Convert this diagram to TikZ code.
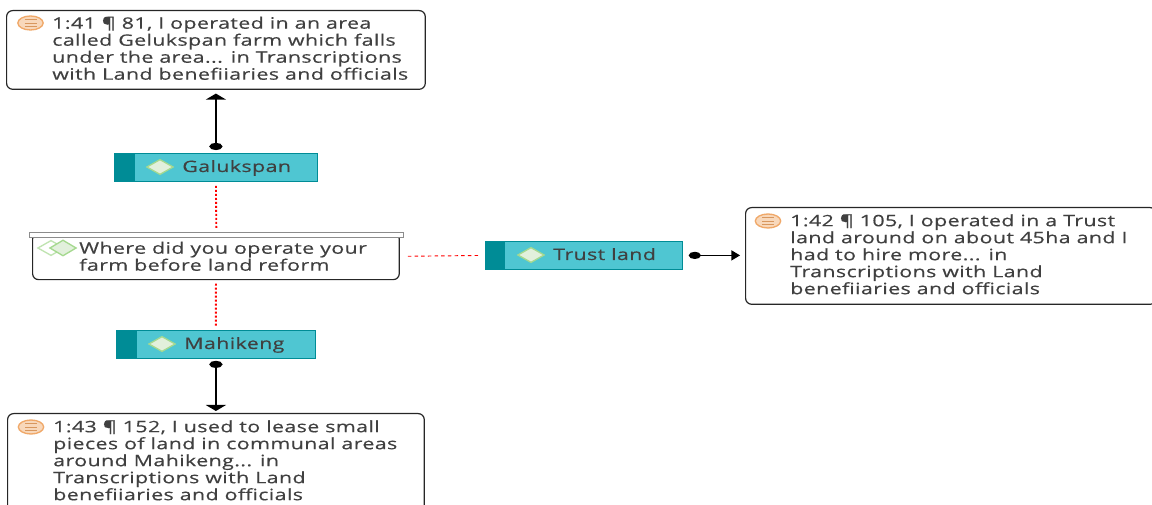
\documentclass[tikz,border=0pt]{standalone}
\usepackage{fontspec}
\usetikzlibrary{arrows.meta,shapes.geometric}
\newfontfamily\nvfont[FakeStretch=1.36,LetterSpace=2.5,FakeBold=0.35]{Open Sans}
\definecolor{codeteal}{HTML}{4FC6D2}
\definecolor{codedark}{HTML}{008C96}
\definecolor{nvtext}{HTML}{404040}
\definecolor{quoteorange}{HTML}{F0A868}
\definecolor{iconfill}{HTML}{E2F0DC}
\definecolor{iconedge}{HTML}{A5D98F}
\tikzset{
  boxline/.style={draw=black!85, line width=0.9pt, rounded corners=4.5pt, fill=white, inner sep=0pt},
  nvtxt/.style={anchor=north west, inner sep=0pt, align=left, text=nvtext, font=\nvfont\fontsize{11.8}{12.75}\selectfont},
  codebox/.style={draw=codedark, line width=0.6pt, fill=codeteal, inner sep=0pt},
  codetag/.style={fill=codedark, inner sep=0pt},
  codeicon/.style={diamond, draw=iconedge, line width=1pt, fill=iconfill, inner sep=0pt, minimum width=20pt, minimum height=11.5pt},
  quoteicon/.style={ellipse, draw=quoteorange, line width=1pt, fill=quoteorange!45, inner sep=0pt, minimum width=19pt, minimum height=10.5pt},
  quotemark/.style={draw=quoteorange!90!black, line width=0.6pt},
  linkto/.style={line width=1.3pt, {Circle[length=5.4pt,width=9.7pt]}-{Triangle[length=4.5pt,width=15pt]}},
  linkto2/.style={line width=0.9pt, {Circle[length=9pt,width=5.4pt]}-{Triangle[length=6.5pt,width=7.5pt]}},
  rellink/.style={draw=red, dash pattern=on 1.5pt off 1.5pt, line width=1.4pt},
  rellink2/.style={draw=red, dash pattern=on 2.6pt off 2.4pt, line width=0.7pt},
}
\begin{document}
\begin{tikzpicture}[x=0.75pt, y=-0.75pt]
  \useasboundingbox (0,0) rectangle (1152,505);
  \clip (0,0) rectangle (1152,505);

  % quotations
  \node[boxline, anchor=north west, minimum width=314pt, minimum height=59pt] (quoteA) at (6,10) {};
  \node[quoteicon] (iconA) at (30.5,23) {};
  \node[nvtxt] (textA) at (52,16.5) {1:41 ¶ 81, I operated in an area\\called Gelukspan farm which falls\\under the area... in Transcriptions\\with Land benefiiaries and officials};

  \node[boxline, anchor=north west, minimum width=308pt, minimum height=72.5pt] (quoteB) at (745,207) {};
  \node[quoteicon] (iconB) at (768,221) {};
  \node[nvtxt] (textB) at (790,214) {1:42 ¶ 105, I operated in a Trust\\land around on about 45ha and I\\had to hire more... in\\Transcriptions with Land\\benefiiaries and officials};

  \node[boxline, anchor=north west, minimum width=312.5pt, minimum height=90pt] (quoteC) at (7,413) {};
  \node[quoteicon] (iconC) at (31,427) {};
  \node[nvtxt] (textC) at (53,420) {1:43 ¶ 152, I used to lease small\\pieces of land in communal areas\\around Mahikeng... in\\Transcriptions with Land\\benefiiaries and officials};

  \foreach \ic in {iconA,iconB,iconC}{
    \foreach \dy in {-2.5,0,2.5}{
      \draw[quotemark] ([xshift=-4.5pt,yshift=\dy pt]\ic.center) -- ([xshift=4.5pt,yshift=\dy pt]\ic.center);
    }
  }

  % question
  \node[boxline, anchor=north west, minimum width=275pt, minimum height=34.9pt] (question) at (32,232.5) {};
  \node[draw=black!45, line width=0.8pt, fill=white, anchor=north west, inner sep=0pt, minimum width=281pt, minimum height=3.6pt] (questionbar) at (28.5,232) {};
  \node[codeicon, fill=white, draw=iconedge!70] (iconQb) at (51,248) {};
  \node[codeicon, minimum height=12pt] (iconQ) at (63,248) {};
  \node[nvtxt] (textQ) at (79,241.5) {Where did you operate your\\farm before land reform};

  % codes
  \foreach \nm/\xa/\ya/\bw/\tg/\txt in {galukspan/114/153/203/21/Galukspan, trust/485/241/197/20/Trust land, mahikeng/116/330/199/21/Mahikeng}{
    \node[codebox, anchor=north west, minimum width=\bw*0.75pt, minimum height=21pt] (\nm) at (\xa,\ya) {};
    \node[codetag, anchor=north west, minimum width=\tg*0.75pt, minimum height=21pt] (\nm tag) at (\xa,\ya) {};
    \node[codeicon] (\nm icon) at (\xa+46,\ya+14) {};
    \node[nvtxt, anchor=base west] (\nm txt) at (\xa+68,\ya+19) {\txt};
  }

  % connectors
  \draw[linkto, shorten <=2.2pt, shorten >=2.8pt] (galukspan.north) -- (galukspan.north |- quoteA.south);
  \draw[linkto, shorten <=1.5pt, shorten >=1.5pt] (mahikeng.south) -- (mahikeng.south |- quoteC.north);
  \draw[linkto2, shorten <=4.5pt, shorten >=3.7pt] (trust.east) -- (quoteB.west |- trust.east);
  \draw[rellink, shorten <=3pt, shorten >=2pt] (galukspan.south) -- (questionbar.north);
  \draw[rellink, shorten <=2.5pt, shorten >=3pt] (question.south) -- (mahikeng.north);
  \draw[rellink2, shorten <=6pt, shorten >=5pt] (question.east) -- (trust.west);
\end{tikzpicture}
\end{document}
